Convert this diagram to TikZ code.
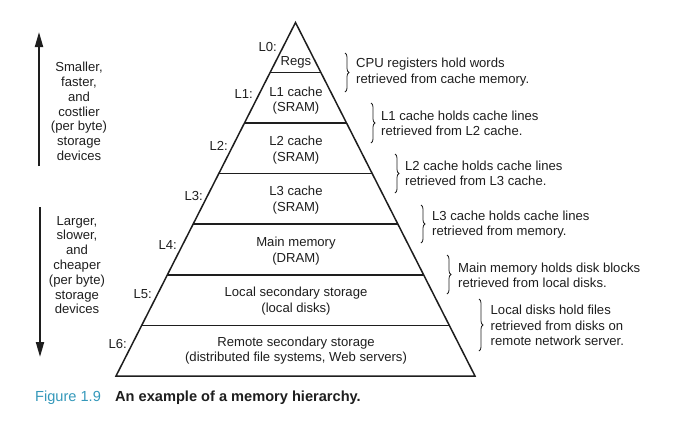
\documentclass[tikz,border=0pt]{standalone}
\usepackage{fontspec}
\setmainfont{Liberation Sans}
\usetikzlibrary{calc,arrows.meta,decorations.pathreplacing}
\definecolor{ink}{RGB}{30,30,30}
\definecolor{figblue}{RGB}{52,152,186}
\tikzset{
  pyr/.style={draw=ink,line width=1.5pt,line join=miter},
  sep/.style={draw=ink,line width=1.4pt},
  layertext/.style={align=center,inner sep=0pt,text=ink,font=\fontsize{13.1}{15.5}\selectfont},
  lvl/.style={anchor=east,inner sep=0pt,text=ink,font=\fontsize{13.1}{15.5}\selectfont},
  side/.style={align=center,inner sep=0pt,text=ink,font=\fontsize{13.1}{14.8}\selectfont},
  note/.style={anchor=west,align=left,inner sep=0pt,text=ink,font=\fontsize{13.1}{15.3}\selectfont},
  brc/.style={draw=ink,line width=0.8pt,decorate,decoration={brace,amplitude=4pt}},
  bigarrow/.style={draw=ink,line width=2pt,-{Triangle[length=15pt,width=8pt]}},
}
\begin{document}
\begin{tikzpicture}[x=1pt,y=-1pt]
\useasboundingbox (0,0) rectangle (683,421);
% pyramid
\coordinate (A) at (295.5,22.5);
\coordinate (BL) at (116,376);
\coordinate (BR) at (475,376);
\draw[pyr] (A) -- (BL) -- (BR) -- cycle;
\foreach \f [count=\i] in {0.1414,0.2843,0.4272,0.5700,0.7143,0.8571}{
  \coordinate (sl\i) at ($(A)!\f!(BL)$);
  \coordinate (sr\i) at ($(A)!\f!(BR)$);
  \draw[sep] (sl\i) -- (sr\i);
}
% layer texts
\node[layertext] (t0) at (296,62) {Regs};
\node[layertext] (t1) at (296,100.5) {L1 cache\\(SRAM)};
\node[layertext] (t2) at (296,150) {L2 cache\\(SRAM)};
\node[layertext] (t3) at (296,200) {L3 cache\\(SRAM)};
\node[layertext] (t4) at (296,251) {Main memory\\(DRAM)};
\node[layertext] (t5) at (296,301) {Local secondary storage\\(local disks)};
\node[layertext] (t6) at (296,350.5) {Remote secondary storage\\(distributed file systems, Web servers)};
% level labels
\node[lvl] (l0) at (277,47) {L0:};
\node[lvl] (l1) at (253,94) {L1:};
\node[lvl] (l2) at (228,146) {L2:};
\node[lvl] (l3) at (203,196) {L3:};
\node[lvl] (l4) at (177,245) {L4:};
\node[lvl] (l5) at (152,294) {L5:};
\node[lvl] (l6) at (127,344) {L6:};
% left arrows and texts
\coordinate (ua0) at (39,166);
\coordinate (ua1) at (39,32);
\draw[bigarrow] (ua0) -- (ua1);
\coordinate (da0) at (40,207);
\coordinate (da1) at (40,357);
\draw[bigarrow] (da0) -- (da1);
\node[side] (s1) at (79,111.5) {Smaller,\\faster,\\and\\costlier\\(per byte)\\storage\\devices};
\node[side] (s2) at (77,265) {Larger,\\slower,\\and\\cheaper\\(per byte)\\storage\\devices};
% braces and notes
\coordinate (b1a) at (345,53);  \coordinate (b1b) at (345,92);
\coordinate (b2a) at (371,103); \coordinate (b2b) at (371,143);
\coordinate (b3a) at (395,154); \coordinate (b3b) at (395,193);
\coordinate (b4a) at (421,205); \coordinate (b4b) at (421,243);
\coordinate (b5a) at (447,255); \coordinate (b5b) at (447,294);
\coordinate (b6a) at (479,299); \coordinate (b6b) at (479,351);
\draw[brc] (b1a) -- (b1b);
\draw[brc] (b2a) -- (b2b);
\draw[brc] (b3a) -- (b3b);
\draw[brc] (b4a) -- (b4b);
\draw[brc] (b5a) -- (b5b);
\draw[brc] (b6a) -- (b6b);
\node[note] (n1) at (356,72) {CPU registers hold words\\retrieved from cache memory.};
\node[note] (n2) at (381,123) {L1 cache holds cache lines\\retrieved from L2 cache.};
\node[note] (n3) at (405,173.5) {L2 cache holds cache lines\\retrieved from L3 cache.};
\node[note] (n4) at (432,224.5) {L3 cache holds cache lines\\retrieved from memory.};
\node[note] (n5) at (458,275) {Main memory holds disk blocks\\retrieved from local disks.};
\node[note] (n6) at (490.5,325.5) {Local disks hold files\\retrieved from disks on\\remote network server.};
% caption
\node[anchor=west,inner sep=0pt,text=figblue,font=\fontsize{14.6}{16}\selectfont] (fig) at (35,398) {Figure 1.9};
\node[anchor=west,inner sep=0pt,text=ink,font=\fontsize{14.6}{16}\selectfont\bfseries] (cap) at (115,398) {An example of a memory hierarchy.};
\end{tikzpicture}
\end{document}
